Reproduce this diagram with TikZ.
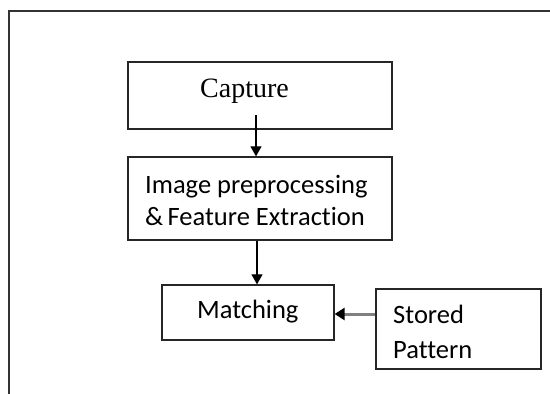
\documentclass[tikz,border=0pt]{standalone}
\usepackage{fontspec}
\setmainfont{Liberation Serif}
\newfontfamily\calibri[Ligatures=NoCommon]{Carlito}
\usetikzlibrary{arrows.meta}
\begin{document}
\begin{tikzpicture}[x=1pt,y=-1pt,
  box/.style={draw=black!85, line width=1.3pt, rectangle, inner sep=0pt},
  lbl/.style={anchor=base west, inner sep=0pt, font=\calibri\fontsize{26.5}{32}\selectfont},
  serif/.style={anchor=base west, inner sep=0pt, font=\fontsize{28}{33}\selectfont},
  arr/.style={-{Triangle[length=10pt,width=11pt]}, line width=1.2pt},
  greyarr/.style={-{Triangle[length=10pt,width=12pt,color=black]}, line width=3pt, draw=black!50}]
\useasboundingbox (0,0) rectangle (550,394);
\draw[line width=1.5pt, black!80] (9,394) -- (9,11) -- (550,11);
% boxes
\node[box, minimum width=264pt, minimum height=67pt] (cap) at (260,95.5) {};
\node[box, minimum width=264pt, minimum height=83pt] (img) at (260,198.5) {};
\node[box, minimum width=172pt, minimum height=55pt] (match) at (248,312.5) {};
\node[box, minimum width=165pt, minimum height=80pt] (stored) at (458.5,329) {};
% texts
\node[serif] (capt) at (200,97) {Capture};
\node[lbl] (t1) at (145,193) {Image preprocessing};
\node[lbl] (t2) at (145,225) {\&\,Feature Extraction};
\node[lbl] (mt) at (197,318) {Matching};
\node[lbl] (s1) at (393,323) {Stored};
\node[lbl] (s2) at (393,358) {Pattern};
% connectors
\coordinate (a1) at (256,115);
\draw[arr] (a1) -- (a1 |- img.north);
\draw[arr] ([xshift=-3pt]img.south) -- ([xshift=9pt]match.north);
\draw[greyarr] ([yshift=15pt]stored.west) -- ([yshift=15pt]stored.west -| match.east);
\end{tikzpicture}
\end{document}
